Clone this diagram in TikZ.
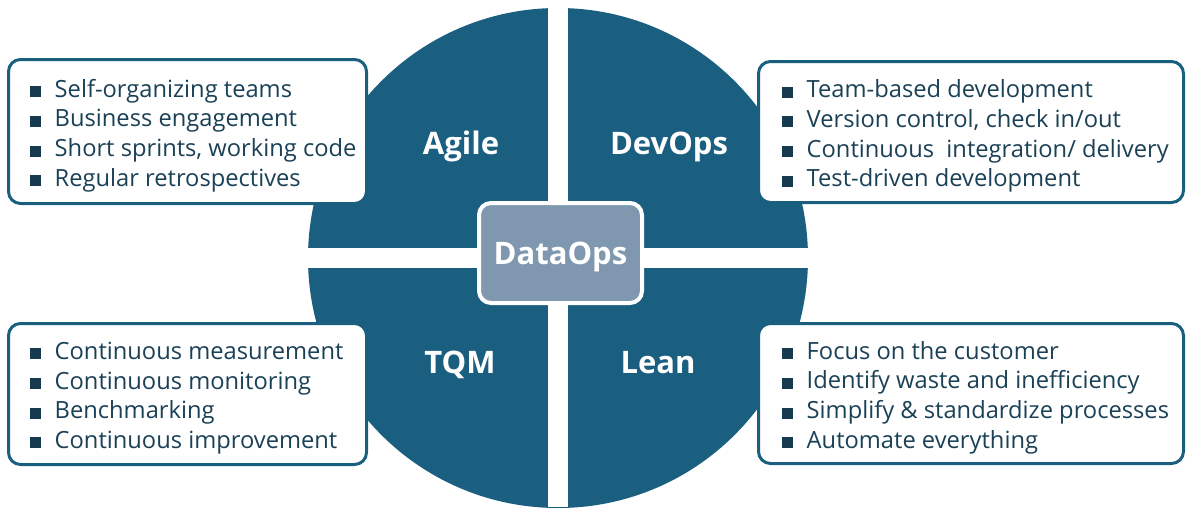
\documentclass[tikz,border=0pt]{standalone}
\usepackage{fontspec}
\setmainfont{Open Sans}
\usepackage{xcolor}
\usepackage{tikz}
\definecolor{quadblue}{HTML}{1A5F80}
\definecolor{hubgrey}{HTML}{8098AF}
\definecolor{listink}{HTML}{1B4157}
\definecolor{bulletink}{HTML}{163B4E}
\newcommand{\sqitem}{\textcolor{bulletink}{\rule{11pt}{11pt}}\hspace{14pt}}

\begin{document}
\begin{tikzpicture}[x=1pt,y=-1pt,
  infobox/.style={draw=quadblue,line width=3pt,rounded corners=12pt,fill=white,inner sep=0pt},
  itemlist/.style={anchor=west,align=left,inner sep=0pt,text=listink,font=\fontsize{23.7}{29.7}\selectfont},
  quadlabel/.style={anchor=base,text=white,font=\bfseries\fontsize{31}{36}\selectfont}]
\useasboundingbox (0,0) rectangle (1186,507);
% quarters of the disc
\fill[quadblue] (558,258) circle (250);
\fill[white] (548,0) rectangle (568,507);
\fill[white] (300,248) rectangle (820,268);
% hub
\node[draw=white,line width=4pt,fill=hubgrey,rounded corners=12pt,minimum width=163pt,minimum height=100pt,
  inner sep=0pt,text depth=0pt,text=white,font=\bfseries\fontsize{31}{36}\selectfont] (dataops) at (560.5,253) {DataOps};
\node[quadlabel] (agile) at (461,154) {Agile};
\node[quadlabel] (devops) at (669,154) {DevOps};
\node[quadlabel] (tqm) at (460,373) {TQM};
\node[quadlabel] (lean) at (658,373) {Lean};
% side boxes
\node[infobox,minimum width=358pt,minimum height=144pt] (agilebox) at (187.5,131.5) {};
\node[infobox,minimum width=425pt,minimum height=141pt] (devopsbox) at (971,132) {};
\node[infobox,minimum width=358pt,minimum height=141pt] (tqmbox) at (187.5,394) {};
\node[infobox,minimum width=425pt,minimum height=140pt] (leanbox) at (971,393.5) {};
\node[itemlist] (agileitems) at ([xshift=22.5pt,yshift=-4pt]agilebox.west) {\sqitem Self-organizing teams\\ \sqitem Business engagement\\ \sqitem Short sprints, working code\\ \sqitem Regular retrospectives};
\node[itemlist] (devopsitems) at ([xshift=24.5pt,yshift=-4pt]devopsbox.west) {\sqitem Team-based development\\ \sqitem Version control, check in/out\\ \sqitem Continuous~ integration/ delivery\\ \sqitem Test-driven development};
\node[itemlist] (tqmitems) at ([xshift=22.5pt,yshift=-4pt]tqmbox.west) {\sqitem Continuous measurement\\ \sqitem Continuous monitoring\\ \sqitem Benchmarking\\ \sqitem Continuous improvement};
\node[itemlist] (leanitems) at ([xshift=24.5pt,yshift=-4pt]leanbox.west) {\sqitem Focus on the customer\\ \sqitem Identify waste and inefficiency\\ \sqitem Simplify \& standardize processes\\ \sqitem Automate everything};
\end{tikzpicture}
\end{document}
